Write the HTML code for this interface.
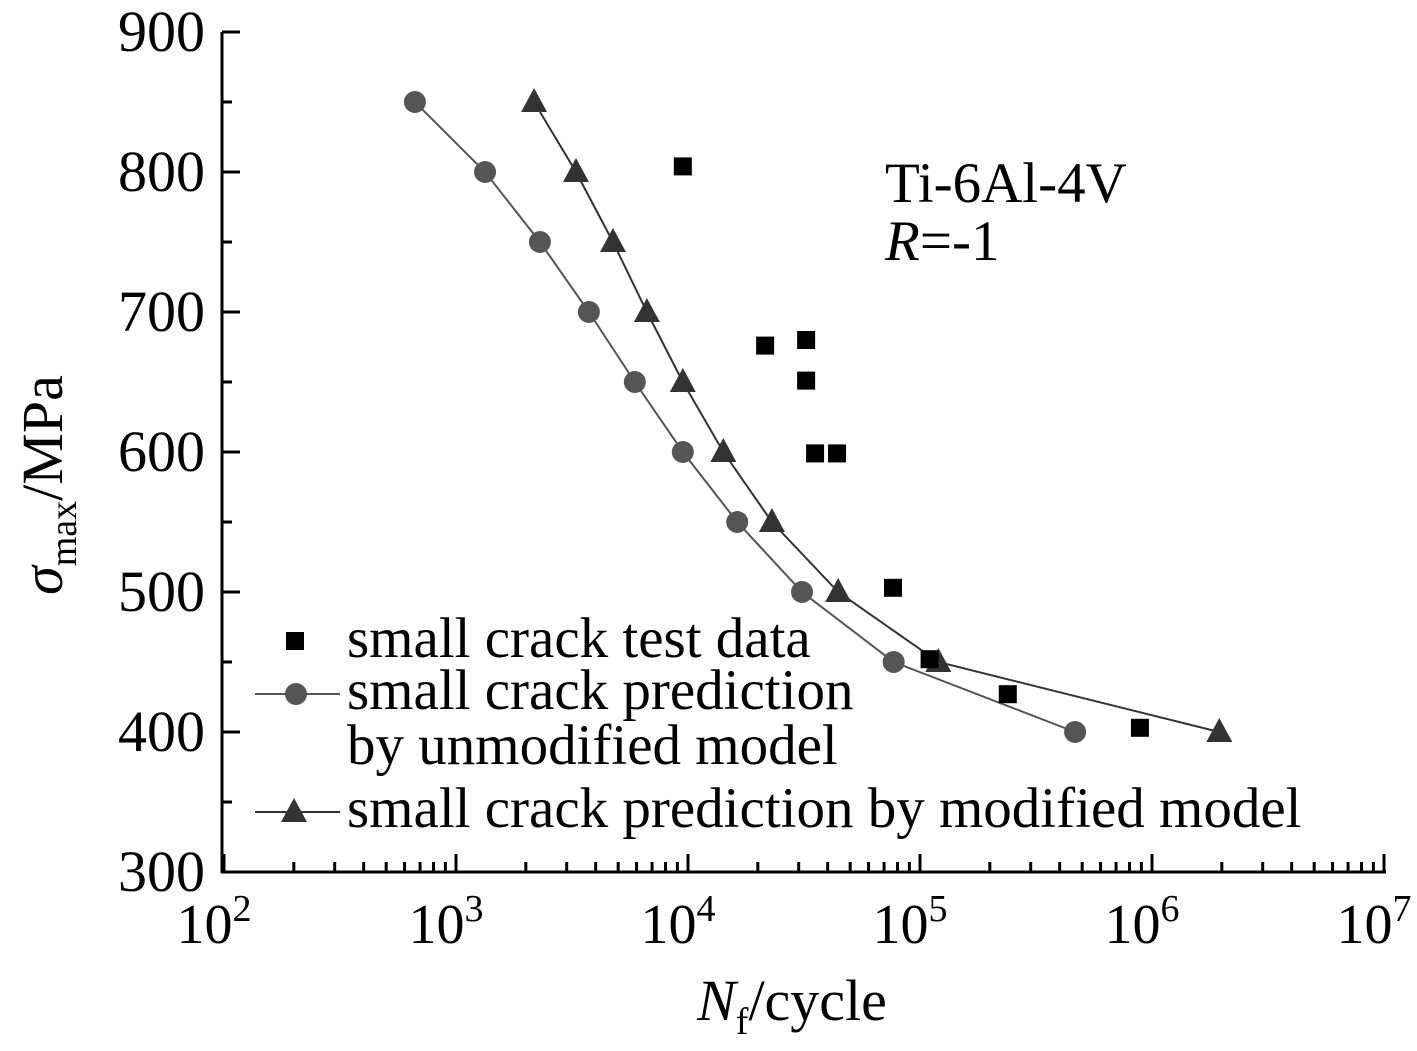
<!DOCTYPE html>
<html><head><meta charset="utf-8"><style>
body{margin:0;background:#fff;}
svg{display:block;font-family:"Liberation Serif",serif;}
</style></head><body>
<svg id="chart" width="1417" height="1051" viewBox="0 0 1417 1051" xmlns="http://www.w3.org/2000/svg"></svg>
<script>
const unmodN=[665,1334,2300,3740,5900,9500,16300,31000,77000,466000];
const unmodS=[850,800,750,700,650,600,550,500,450,400];
const modN=[2170,3290,4750,6650,9500,14200,23000,44400,120000,1950000];
const modS=[850,800,750,700,650,600,550,500,450,400];
const testN=[9500,21500,32300,32300,35300,43900,76500,110000,239000,887000];
const testS=[804,676,680,651,599,599,503,452,427,403];
const yTicks=[300,400,500,600,700,800,900];
const xExps=[2,3,4,5,6,7];

const NS="http://www.w3.org/2000/svg";
const svg=document.getElementById('chart');
const X0=224,DEC=232,Y0=872,YS=1.4;
const xs=n=>X0+(Math.log10(n)-2)*DEC;
const ys=v=>Y0-(v-300)*YS;
function mk(t,a,p){const e=document.createElementNS(NS,t);for(const k in a)e.setAttribute(k,a[k]);(p||svg).appendChild(e);return e;}

const axes=mk('g',{});


mk('line',{x1:222,y1:32,x2:222,y2:873,stroke:'#000','stroke-width':3},axes);
mk('line',{x1:221,y1:872,x2:1386,y2:872,stroke:'#000','stroke-width':3},axes);
for(let v=300;v<=900;v+=50){const maj=v%100===0;mk('line',{x1:222,y1:ys(v),x2:222+(maj?18:10),y2:ys(v),stroke:'#000','stroke-width':3},axes);}
yTicks.forEach(v=>{const t=mk('text',{x:205,y:ys(v)+19,'text-anchor':'end','font-size':58},axes);t.textContent=v;
});
for(let e=2;e<7;e++)for(let m=1;m<=10;m++){const x=xs(m*Math.pow(10,e));const maj=(m===1||m===10);mk('line',{x1:x,y1:872,x2:x,y2:872-(maj?18:10),stroke:'#000','stroke-width':3},axes);}
xExps.forEach(e=>{const t=mk('text',{x:xs(Math.pow(10,e))-10,y:943,'text-anchor':'middle','font-size':56},axes);
t.innerHTML='10<tspan dy="-22" font-size="38">'+e+'</tspan>';
});

let t=mk('text',{x:792,y:1020,'text-anchor':'middle','font-size':58});
t.innerHTML='<tspan font-style="italic">N</tspan><tspan dy="14" font-size="38">f</tspan><tspan dy="-14">/cycle</tspan>';

t=mk('text',{transform:'translate(62,485) rotate(-90)','text-anchor':'middle','font-size':58});
t.innerHTML='<tspan font-style="italic">σ</tspan><tspan dy="14" font-size="38">max</tspan><tspan dy="-14">/MPa</tspan>';

t=mk('text',{x:885,y:202,'font-size':57});t.textContent='Ti-6Al-4V';

t=mk('text',{x:885,y:260,'font-size':57});t.innerHTML='<tspan font-style="italic">R</tspan>=-1';


function tri(x,y,g,c){return mk('polygon',{points:`${x},${y-14} ${x-13},${y+10} ${x+13},${y+10}`,fill:c},g);}

const gU=mk('g',{});
mk('polyline',{points:unmodN.map((n,i)=>xs(n)+','+ys(unmodS[i])).join(' '),fill:'none',stroke:'#555','stroke-width':2},gU);
unmodN.forEach((n,i)=>{const c=mk('circle',{cx:xs(n),cy:ys(unmodS[i]),r:11,fill:'#555'},gU);});

const gM=mk('g',{});
mk('polyline',{points:modN.map((n,i)=>xs(n)+','+ys(modS[i])).join(' '),fill:'none',stroke:'#333','stroke-width':2},gM);
modN.forEach((n,i)=>{const p=tri(xs(n),ys(modS[i]),gM,'#333');});

const gT=mk('g',{});
testN.forEach((n,i)=>{const r=mk('rect',{x:xs(n)-9,y:ys(testS[i])-9,width:18,height:18,fill:'#000'},gT);});

const lg=mk('g',{});
mk('rect',{x:286,y:632,width:18,height:18,fill:'#000'},lg);
t=mk('text',{x:347,y:657,'font-size':57},lg);t.textContent='small crack test data';
mk('line',{x1:255,y1:694,x2:340,y2:694,stroke:'#555','stroke-width':2},lg);
mk('circle',{cx:296,cy:694,r:11,fill:'#555'},lg);
t=mk('text',{x:347,y:709,'font-size':57},lg);t.textContent='small crack prediction';
t=mk('text',{x:347,y:764,'font-size':57},lg);t.textContent='by unmodified model';
mk('line',{x1:255,y1:812,x2:340,y2:812,stroke:'#333','stroke-width':2},lg);
tri(294,812,lg,'#333');
t=mk('text',{x:347,y:827,'font-size':57},lg);t.textContent='small crack prediction by modified model';
</script>
</body></html>
